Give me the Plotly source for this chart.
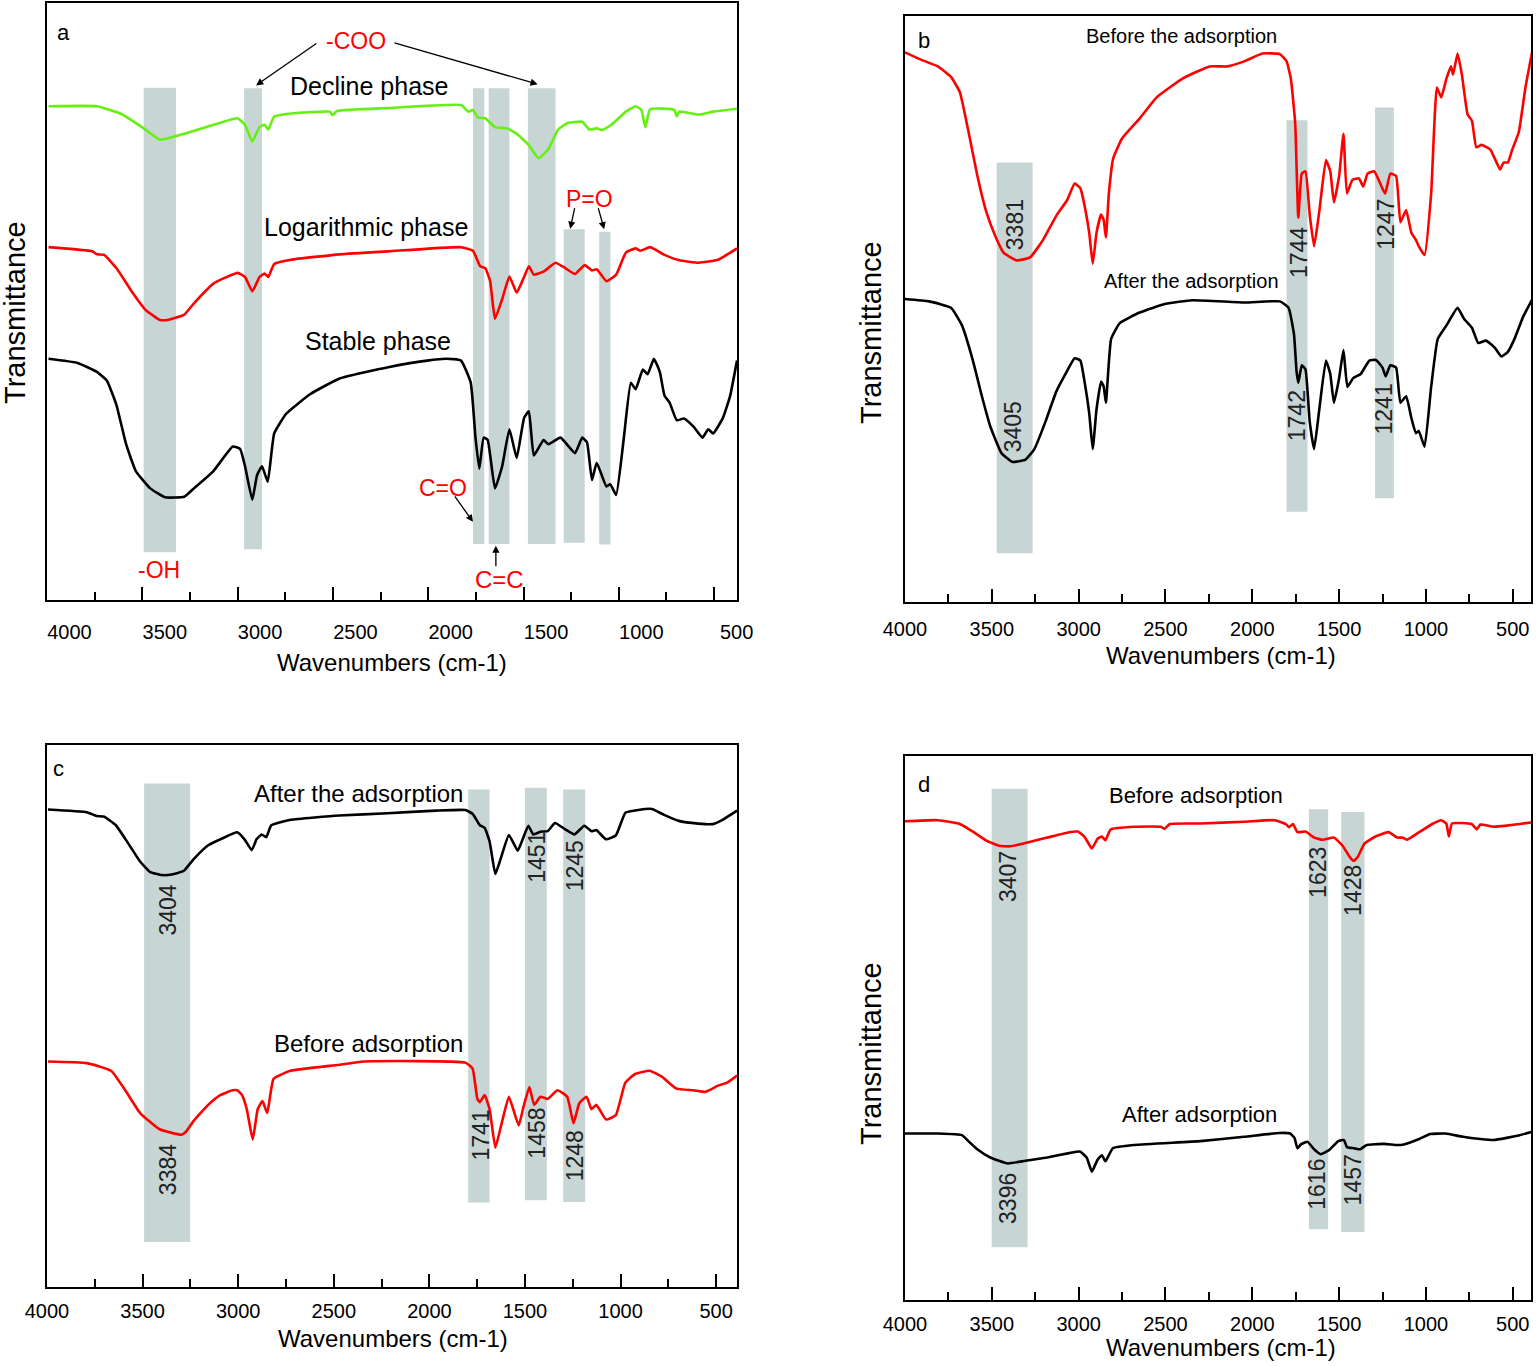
import plotly.graph_objects as go

W, H = 1536, 1366
FONT = "Liberation Sans, Arial, sans-serif"
RED = "#ff0000"
GREEN = "#66f010"
BAND = "rgb(200,213,213)"

# ---------------- panel a : growth phases ----------------
a_decline_wn = [3992, 3738, 3610, 3483, 3407, 3280, 3127, 3000, 2961, 2923, 2885, 2859, 2839, 2808, 2719, 2516,
                2503, 2478, 2210, 1828, 1790, 1765, 1739, 1701, 1650, 1586, 1536, 1472, 1421, 1370, 1319, 1268,
                1192, 1154, 1116, 1090, 1039, 963, 912, 882, 861, 836, 709, 696, 683, 581, 505, 380]
a_decline_t = [82.7, 82.7, 81.4, 78.8, 77.1, 78.1, 79.6, 80.7, 79.6, 76.8, 79.2, 79.6, 78.8, 81.0, 81.5, 81.8,
               81.2, 81.9, 82.4, 82.9, 81.8, 82.1, 80.8, 80.7, 79.2, 79.0, 78.1, 76.2, 74.0, 75.5, 78.8, 79.9,
               80.1, 78.8, 79.0, 78.7, 79.6, 81.8, 82.7, 82.1, 79.2, 82.2, 82.1, 81.0, 81.8, 81.3, 81.8, 82.3]

a_log_wn = [3992, 3763, 3738, 3700, 3636, 3560, 3483, 3407, 3356, 3280, 3229, 3127, 3050, 3000, 2961, 2923,
            2885, 2859, 2839, 2808, 2719, 2465, 2210, 1828, 1765, 1727, 1701, 1675, 1650, 1612, 1574, 1536,
            1497, 1472, 1446, 1395, 1332, 1281, 1230, 1179, 1141, 1116, 1065, 1014, 963, 912, 887, 836,
            760, 683, 581, 479, 380]
a_log_t = [59.1, 58.4, 57.9, 57.8, 55.6, 51.9, 48.6, 46.9, 47.0, 47.8, 49.7, 53.0, 54.2, 54.8, 54.1, 51.7,
           54.1, 54.7, 54.1, 56.3, 57.0, 57.9, 58.4, 59.1, 58.5, 55.9, 55.6, 53.4, 47.1, 50.4, 54.2, 51.5,
           54.1, 55.9, 54.5, 55.0, 56.5, 55.6, 54.6, 56.1, 55.2, 55.4, 53.4, 54.5, 58.2, 58.9, 58.5, 59.1,
           57.8, 56.9, 56.5, 57.0, 58.9]

a_stable_wn = [3992, 3840, 3738, 3687, 3636, 3585, 3534, 3458, 3381, 3280, 3229, 3127, 3025, 2987, 2961, 2923,
               2898, 2872, 2842, 2808, 2745, 2618, 2465, 2210, 2006, 1905, 1828, 1777, 1752, 1732, 1709, 1688,
               1650, 1612, 1574, 1536, 1497, 1472, 1446, 1395, 1370, 1306, 1230, 1192, 1167, 1141, 1116, 1065,
               1045, 1014, 975, 937, 912, 874, 849, 816, 785, 760, 734, 696, 658, 607, 561, 531, 505, 454,
               416, 380]
a_stable_t = [40.4, 39.7, 38.2, 36.8, 32.7, 26.1, 21.6, 18.7, 17.2, 17.3, 18.7, 21.6, 25.7, 25.3, 22.4, 16.8,
              20.9, 22.4, 19.8, 27.9, 31.2, 34.5, 37.1, 39.0, 40.1, 40.4, 40.1, 36.4, 27.2, 22.0, 27.2, 26.8,
              18.7, 22.4, 28.6, 23.8, 30.5, 31.6, 24.2, 26.8, 26.1, 27.2, 24.6, 27.2, 26.4, 20.1, 23.0, 19.0,
              19.4, 17.6, 26.8, 36.4, 35.3, 38.6, 37.8, 40.4, 38.2, 34.2, 33.1, 30.1, 30.4, 29.0, 27.2, 28.6,
              27.9, 30.5, 34.2, 40.1]

# bands: (wn start, wn end, bottom, top)
a_bands = [(3493, 3323, 8.0, 85.8), (2966, 2872, 8.5, 85.7), (1765, 1706, 9.4, 85.7), (1683, 1574, 9.4, 85.7),
           (1477, 1332, 9.4, 85.7), (1289, 1179, 9.6, 62.1), (1103, 1044, 9.3, 61.7)]

# ---------------- panel b ----------------
b_before_wn = [4000, 3912, 3811, 3735, 3684, 3634, 3583, 3533, 3482, 3432, 3356, 3280, 3205, 3129, 3066, 3023,
               2990, 2965, 2939, 2919, 2897, 2871, 2856, 2843, 2826, 2801, 2750, 2649, 2548, 2397, 2245, 2144,
               2043, 1942, 1841, 1803, 1778, 1753, 1735, 1715, 1694, 1669, 1644, 1614, 1576, 1551, 1530, 1500,
               1475, 1455, 1424, 1386, 1361, 1336, 1298, 1260, 1235, 1205, 1172, 1147, 1114, 1084, 1058, 1041,
               1008, 970, 937, 912, 882, 856, 844, 818, 793, 760, 735, 710, 680, 629, 604, 573, 553, 528, 503,
               465, 427, 387]
b_before_t = [93.8, 92.6, 91.4, 89.6, 87.0, 80.2, 72.7, 66.7, 62.6, 59.6, 58.3, 58.8, 61.8, 65.9, 68.6, 71.4,
              70.6, 67.5, 63.0, 57.7, 63.0, 66.1, 65.2, 62.2, 69.7, 75.7, 79.1, 82.5, 86.2, 89.4, 91.4, 91.4,
              92.3, 93.6, 93.5, 92.3, 89.3, 81.7, 65.6, 73.1, 73.5, 66.0, 60.7, 66.7, 75.4, 73.5, 68.2, 72.7,
              79.9, 69.7, 72.0, 72.3, 70.9, 73.1, 73.5, 71.2, 69.7, 73.1, 72.7, 64.8, 66.9, 63.0, 61.8, 60.7,
              59.2, 69.7, 87.8, 86.1, 89.3, 91.4, 90.0, 93.6, 90.0, 83.2, 82.1, 77.6, 78.0, 77.2, 75.7, 73.8,
              75.0, 75.0, 77.2, 80.2, 87.8, 94.1]

b_after_wn = [4000, 3861, 3735, 3672, 3609, 3558, 3508, 3444, 3381, 3306, 3255, 3192, 3129, 3078, 3023, 2990,
              2965, 2939, 2919, 2897, 2871, 2856, 2843, 2813, 2763, 2649, 2498, 2346, 2043, 1841, 1791, 1760,
              1745, 1735, 1715, 1694, 1669, 1644, 1614, 1576, 1551, 1530, 1500, 1475, 1452, 1419, 1376, 1326,
              1288, 1250, 1232, 1205, 1172, 1147, 1114, 1084, 1058, 1041, 1008, 970, 932, 882, 818, 780, 735,
              699, 654, 604, 566, 528, 490, 440, 387]
b_after_t = [51.7, 51.3, 50.2, 47.2, 41.2, 35.2, 29.9, 25.4, 23.9, 24.3, 26.1, 30.7, 35.9, 38.8, 41.6, 41.2,
             37.4, 32.2, 26.1, 32.9, 37.6, 36.8, 34.0, 44.9, 47.6, 49.4, 50.9, 51.5, 51.1, 51.3, 50.2, 45.7,
             39.3, 37.4, 40.4, 39.7, 30.7, 26.1, 32.9, 41.2, 38.9, 34.0, 38.2, 43.0, 36.7, 38.2, 38.9, 41.2,
             41.3, 40.0, 38.5, 40.4, 40.0, 34.0, 35.1, 31.4, 28.8, 29.2, 26.5, 36.7, 44.9, 47.2, 50.2, 48.3,
             46.8, 44.2, 44.6, 43.4, 41.9, 42.7, 44.9, 48.7, 51.7]

b_bands = [(3472, 3265, 8.3, 75.0), (1803, 1682, 15.4, 82.2), (1293, 1185, 17.7, 84.4)]

# ---------------- panel c ----------------
c_after_wn = [3995, 3792, 3741, 3703, 3640, 3576, 3513, 3462, 3398, 3348, 3284, 3234, 3157, 3081, 3005, 2967,
              2929, 2904, 2878, 2853, 2827, 2726, 2472, 2218, 1965, 1812, 1774, 1736, 1711, 1685, 1655, 1622,
              1584, 1538, 1508, 1482, 1457, 1419, 1381, 1343, 1292, 1241, 1190, 1152, 1127, 1076, 1025, 975,
              924, 873, 835, 772, 696, 594, 518, 467, 391]
c_after_t = [88.1, 87.6, 86.9, 86.8, 85.2, 81.9, 78.5, 76.6, 76.0, 76.1, 76.8, 78.9, 81.5, 82.8, 83.9, 82.6,
             80.6, 82.6, 83.5, 83.0, 85.2, 86.2, 87.0, 87.4, 87.9, 88.0, 87.3, 85.2, 84.7, 82.2, 76.2, 79.6,
             83.4, 80.5, 83.0, 85.1, 83.5, 84.0, 84.1, 85.6, 84.5, 83.5, 85.1, 84.1, 84.3, 82.6, 83.3, 87.5,
             87.9, 88.2, 88.2, 87.1, 86.0, 85.5, 85.4, 86.2, 87.9]

c_before_wn = [3995, 3792, 3665, 3589, 3513, 3411, 3297, 3272, 3234, 3157, 3094, 3030, 3005, 2980, 2955, 2924,
               2898, 2873, 2848, 2815, 2726, 2472, 2345, 1812, 1774, 1749, 1736, 1711, 1685, 1655, 1622, 1584,
               1533, 1508, 1477, 1452, 1419, 1381, 1330, 1279, 1246, 1216, 1178, 1152, 1127, 1076, 1025, 975,
               924, 848, 784, 708, 619, 556, 493, 442, 391]
c_before_t = [41.6, 41.3, 39.9, 36.2, 32.1, 29.1, 28.1, 28.7, 30.6, 33.6, 35.4, 36.3, 36.3, 35.4, 32.8, 27.2,
              32.8, 34.3, 32.1, 38.4, 39.9, 41.0, 41.6, 41.4, 40.3, 34.7, 34.1, 35.4, 32.8, 25.7, 30.2, 35.1,
              29.8, 33.2, 36.9, 33.6, 35.1, 34.7, 36.3, 35.1, 30.2, 33.9, 35.1, 32.8, 33.6, 30.9, 31.7, 37.7,
              39.3, 39.9, 38.8, 36.6, 36.3, 36.0, 37.1, 37.7, 39.0]

c_bands = [(3492, 3251, 8.3, 92.9), (1797, 1685, 15.6, 91.8), (1500, 1386, 16.0, 92.1), (1300, 1185, 15.7, 91.8)]

# ---------------- panel d ----------------
d_before_wn = [4000, 3811, 3685, 3609, 3534, 3458, 3395, 3307, 3181, 3055, 3005, 2967, 2924, 2891, 2866, 2846,
               2816, 2677, 2526, 2506, 2475, 2299, 2047, 1871, 1808, 1788, 1766, 1740, 1694, 1644, 1594, 1530,
               1480, 1442, 1417, 1392, 1354, 1291, 1215, 1165, 1135, 1110, 1039, 964, 913, 883, 868, 850, 737,
               707, 687, 611, 535, 460, 389]
d_before_t = [88.0, 88.2, 87.5, 86.1, 84.5, 83.5, 83.4, 84.0, 85.0, 86.0, 86.1, 85.2, 83.0, 84.8, 85.2, 84.5,
              86.5, 87.0, 87.0, 86.6, 87.5, 87.6, 87.9, 88.2, 87.5, 86.9, 87.5, 86.0, 86.1, 85.0, 84.6, 85.0,
              83.5, 81.6, 80.7, 81.5, 83.9, 85.2, 86.0, 85.0, 85.0, 84.6, 86.0, 87.5, 88.2, 87.6, 85.2, 87.6,
              87.5, 86.5, 87.4, 87.0, 87.2, 87.5, 87.8]

d_after_wn = [4000, 3811, 3672, 3635, 3584, 3509, 3408, 3307, 3181, 3055, 2992, 2954, 2924, 2891, 2866, 2846,
              2803, 2677, 2299, 2047, 1846, 1782, 1757, 1740, 1720, 1682, 1644, 1606, 1556, 1505, 1472, 1455,
              1417, 1379, 1341, 1241, 1165, 1127, 1039, 976, 888, 787, 687, 611, 535, 460, 389]
d_after_t = [30.6, 30.6, 30.3, 29.2, 27.7, 26.2, 25.1, 25.6, 26.2, 27.0, 27.3, 26.2, 23.6, 25.8, 26.6, 25.5,
             27.9, 28.5, 29.2, 30.0, 30.7, 30.6, 29.8, 27.9, 28.6, 29.1, 27.7, 26.8, 27.6, 29.2, 29.4, 28.1,
             27.9, 27.7, 28.5, 28.7, 28.5, 28.6, 29.6, 30.5, 30.6, 30.0, 29.6, 29.4, 29.8, 30.3, 30.9]

d_bands = [(3501, 3294, 9.7, 94.0), (1674, 1563, 13.0, 90.2), (1488, 1354, 12.5, 89.7)]

tick_vals = [4000, 3500, 3000, 2500, 2000, 1500, 1000, 500]


def px(x, y):
    """pixel position -> paper coordinates"""
    return x / W, 1 - y / H


# panel frames in pixels: (left, right, top, bottom), x range
frames = {
    "": ((47, 737, 3, 600), (4000, 380)),
    "2": ((905, 1531, 16, 602), (4000, 395)),
    "3": ((47, 737, 745, 1287), (4000, 391)),
    "4": ((905, 1531, 756, 1300), (4000, 395)),
}
label_standoff = {"": 0, "2": 8, "3": 5, "4": 5}

fig = go.Figure()

series = [
    ("", a_decline_wn, a_decline_t, GREEN),
    ("", a_log_wn, a_log_t, RED),
    ("", a_stable_wn, a_stable_t, "black"),
    ("2", b_before_wn, b_before_t, RED),
    ("2", b_after_wn, b_after_t, "black"),
    ("3", c_after_wn, c_after_t, "black"),
    ("3", c_before_wn, c_before_t, RED),
    ("4", d_before_wn, d_before_t, RED),
    ("4", d_after_wn, d_after_t, "black"),
]
for ax, wn, t, color in series:
    fig.add_trace(go.Scatter(
        x=wn, y=t, xaxis="x" + ax, yaxis="y" + ax, mode="lines",
        line=dict(color=color, width=2.6, shape="spline", smoothing=0.4),
        hoverinfo="skip", showlegend=False))

# empty trace so the shifted label axis of panel a gets drawn
fig.add_trace(go.Scatter(x=tick_vals, y=[None] * len(tick_vals), xaxis="x5", yaxis="y",
                         mode="lines", hoverinfo="skip", showlegend=False))

shapes = []
for ax, bands in [("", a_bands), ("2", b_bands), ("3", c_bands), ("4", d_bands)]:
    for x0, x1, y0, y1 in bands:
        shapes.append(dict(type="rect", xref="x" + ax, yref="y" + ax, x0=x0, x1=x1, y0=y0, y1=y1,
                           fillcolor=BAND, line=dict(width=0), layer="below"))

layout = dict(width=W, height=H, margin=dict(l=0, r=0, t=0, b=0, autoexpand=False),
              paper_bgcolor="white", plot_bgcolor="white", showlegend=False,
              font=dict(family=FONT, color="black"), shapes=shapes)

for ax, ((l, r, t, b), rng) in frames.items():
    layout["xaxis" + ax] = dict(
        domain=[l / W, r / W], anchor="y" + ax, range=list(rng), automargin=False,
        showline=True, mirror=True, linecolor="black", linewidth=2,
        showgrid=False, zeroline=False,
        ticks="inside", ticklen=13, tickwidth=2, tickcolor="black",
        tickvals=tick_vals, showticklabels=(ax != ""),
        ticklabelstandoff=label_standoff[ax],
        tickfont=dict(size=20, family=FONT, color="black"),
        minor=dict(ticks="inside", ticklen=8, tickwidth=2, tickcolor="black", dtick=250, tick0=0),
    )
    layout["yaxis" + ax] = dict(
        domain=[1 - b / H, 1 - t / H], anchor="x" + ax, range=[0, 100], automargin=False,
        showline=True, mirror=True, linecolor="black", linewidth=2,
        showgrid=False, zeroline=False, showticklabels=False, ticks="",
    )

# panel a: tick labels sit slightly right of their ticks in the original
layout["xaxis5"] = dict(
    overlaying="x", anchor="y", side="bottom", range=[4118, 498], automargin=False,
    tickvals=tick_vals, ticks="", showline=False, showgrid=False, zeroline=False,
    ticklabelstandoff=18, tickfont=dict(size=20, family=FONT, color="black"),
)

fig.update_layout(**layout)


def note(ax, text, x, y, size, color="black", angle=0):
    fig.add_annotation(xref="x" + ax, yref="y" + ax, x=x, y=y, text=text, showarrow=False,
                       xanchor="center", yanchor="middle",
                       textangle=angle, font=dict(size=size, color=color, family=FONT))


def arrow(ax, x0, y0, x1, y1):
    fig.add_annotation(xref="x" + ax, yref="y" + ax, axref="x" + ax, ayref="y" + ax,
                       x=x1, y=y1, ax=x0, ay=y0, text="", showarrow=True,
                       arrowhead=2, arrowsize=1.1, arrowwidth=1.3, arrowcolor="black")


# panel a texts
note("", "a", 3911, 95.1, 22)
note("", "-COO", 2381, 93.7, 23, RED)
arrow("", 2579, 93.4, 2903, 86.2)
arrow("", 2185, 93.4, 1426, 86.4)
note("", "Decline phase", 2312, 86.1, 25)
note("", "P=O", 1154, 67.2, 23, RED)
arrow("", 1230, 65.9, 1255, 62.2)
arrow("", 1110, 65.9, 1077, 62.1)
note("", "Logarithmic phase", 2325, 62.4, 25)
note("", "Stable phase", 2261, 43.4, 25)
note("", "C=O", 1922, 18.8, 23, RED)
arrow("", 1866, 17.6, 1765, 13.1)
note("", "-OH", 3412, 5.0, 23, RED)
note("", "C=C", 1625, 3.5, 24, RED)
arrow("", 1645, 5.4, 1645, 9.1)

# panel b texts
note("2", "b", 3891, 95.8, 22)
note("2", "Before the adsorption", 2409, 96.6, 20)
note("2", "After the adsorption", 2351, 54.7, 20)
for txt, x, y in [("3381", 3369, 64.4), ("1744", 1735, 59.6), ("1247", 1235, 64.4),
                  ("3405", 3381, 29.9), ("1742", 1745, 31.8), ("1241", 1240, 32.9)]:
    note("2", txt, x, y, 23, "#222222", -90)

# panel c texts
note("3", "c", 3939, 95.7, 22)
note("3", "After the adsorption", 2371, 91.0, 24)
note("3", "Before adsorption", 2320, 45.0, 24)
for txt, x, y in [("3404", 3366, 69.5), ("1451", 1437, 79.2), ("1245", 1241, 77.7),
                  ("3384", 3366, 21.6), ("1741", 1731, 28.1), ("1458", 1437, 28.3), ("1248", 1241, 24.2)]:
    note("3", txt, x, y, 23, "#222222", -90)

# panel d texts
note("4", "d", 3892, 94.7, 22)
note("4", "Before adsorption", 2324, 92.7, 22)
note("4", "After adsorption", 2304, 34.1, 22)
for txt, x, y in [("3407", 3408, 77.9), ("1623", 1619, 78.6), ("1428", 1417, 75.3),
                  ("3396", 3403, 18.7), ("1616", 1624, 21.3), ("1457", 1422, 22.1)]:
    note("4", txt, x, y, 23, "#222222", -90)

# axis titles
for cx, cy in [(392, 663), (1221, 655), (393, 1338), (1221, 1347)]:
    x, y = px(cx, cy)
    fig.add_annotation(xref="paper", yref="paper", x=x, y=y, text="Wavenumbers (cm-1)", showarrow=False,
                       xanchor="center", yanchor="middle", font=dict(size=24, family=FONT, color="black"))
for cx, cy in [(15, 313), (871, 333), (871, 1054)]:
    x, y = px(cx, cy)
    fig.add_annotation(xref="paper", yref="paper", x=x, y=y, text="Transmittance", showarrow=False,
                       xanchor="center", yanchor="middle", textangle=-90,
                       font=dict(size=29, family=FONT, color="black"))

fig.write_html("out.html", config={"displayModeBar": False},
               post_script="document.body.style.margin='0';")
